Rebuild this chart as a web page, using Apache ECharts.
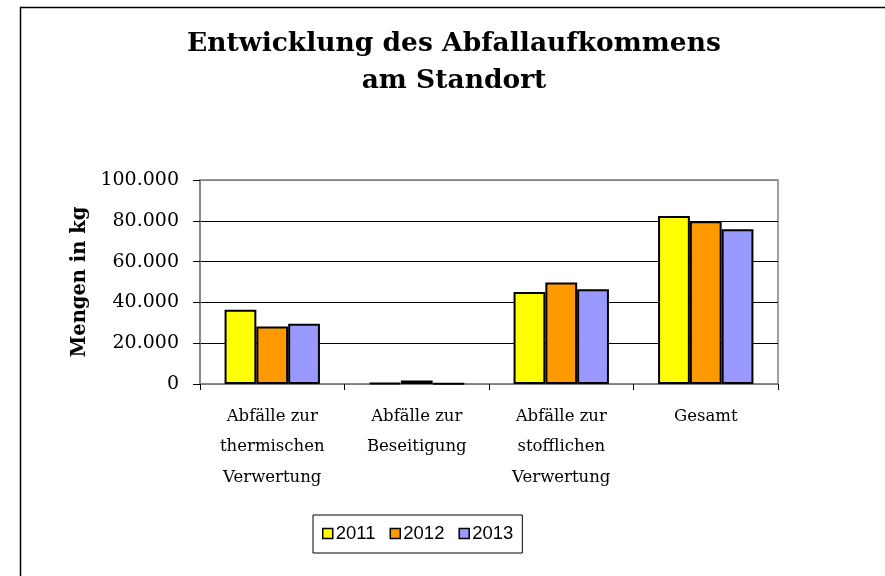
<!DOCTYPE html>
<html><head><meta charset="utf-8">
<script src="https://cdn.jsdelivr.net/npm/echarts@6/dist/echarts.min.js"></script>
<style>html,body{margin:0;padding:0;background:#fff}#c{width:885px;height:576px}</style>
</head><body><div id="c"></div>
<script>
const categories = ['Abfälle zur\nthermischen\nVerwertung', 'Abfälle zur\nBeseitigung', 'Abfälle zur\nstofflichen\nVerwertung', 'Gesamt'];
const years = ['2011', '2012', '2013'];
const values2011 = [36400, 500, 45100, 82400];
const values2012 = [28200, 1700, 49700, 79800];
const values2013 = [29500, 200, 46400, 75900];
const yTicks = [0, 20000, 40000, 60000, 80000, 100000];
const colors = ['#FFFF00', '#FF9900', '#9999FF'];

const serif = '"DejaVu Serif", serif';
const chart = echarts.init(document.getElementById('c'));
const allValues = [values2011, values2012, values2013];
chart.setOption({
  animation: false,
  backgroundColor: '#fff',
  title: {
    text: 'Entwicklung des Abfallaufkommens\nam Standort',
    left: 449, top: 21, textAlign: 'center',
    textStyle: { fontFamily: serif, fontWeight: 'bold', fontSize: 26.5, lineHeight: 37, color: '#000' }
  },
  graphic: [{
    type: 'rect', shape: { x: 20.5, y: 7.5, width: 900, height: 600 },
    style: { fill: 'none', stroke: '#000', lineWidth: 1.5 }, silent: true
  }],
  legend: {
    data: years, left: 313, top: 515, orient: 'horizontal',
    itemWidth: 10, itemHeight: 10, itemGap: 14, icon: 'rect',
    padding: [9, 9, 10, 9], borderColor: '#000', borderWidth: 1,
    textStyle: { fontFamily: '"Liberation Sans", Arial, sans-serif', fontSize: 18.5, color: '#000', padding: [0, 0, 0, -2] },
    itemStyle: { borderColor: '#000', borderWidth: 1.5 }
  },
  grid: { left: 200, right: 107, top: 180, bottom: 192, show: true, borderColor: '#808080', borderWidth: 1.5, containLabel: false },
  xAxis: {
    type: 'category', data: categories,
    axisLine: { lineStyle: { color: '#808080', width: 1.5 } },
    axisTick: { show: true, length: 6, lineStyle: { color: '#000' } },
    axisLabel: { fontFamily: serif, fontSize: 16.5, lineHeight: 30.5, color: '#000', margin: 17, interval: 0 }
  },
  yAxis: {
    type: 'value', min: yTicks[0], max: yTicks[yTicks.length - 1], interval: yTicks[1] - yTicks[0],
    name: 'Mengen in kg', nameLocation: 'middle', nameGap: 110, nameRotate: 90,
    nameTextStyle: { fontFamily: serif, fontWeight: 'bold', fontSize: 19.5, color: '#000' },
    axisLine: { show: true, lineStyle: { color: '#808080', width: 1.5 } },
    axisTick: { show: true, length: 7, lineStyle: { color: '#000' } },
    axisLabel: {
      fontFamily: serif, fontSize: 19, color: '#000', margin: 21,
      formatter: v => v === 0 ? '0' : v.toLocaleString('de-DE')
    },
    splitLine: { show: true, lineStyle: { color: ['#808080', '#000', '#000', '#000', '#000', '#808080'], width: 1 } }
  },
  series: years.map((y, i) => ({
    name: y, type: 'bar', data: allValues[i],
    barGap: '0%', barCategoryGap: '34%',
    itemStyle: { color: colors[i], borderColor: '#000', borderWidth: 2 }
  }))
});
</script></body></html>
